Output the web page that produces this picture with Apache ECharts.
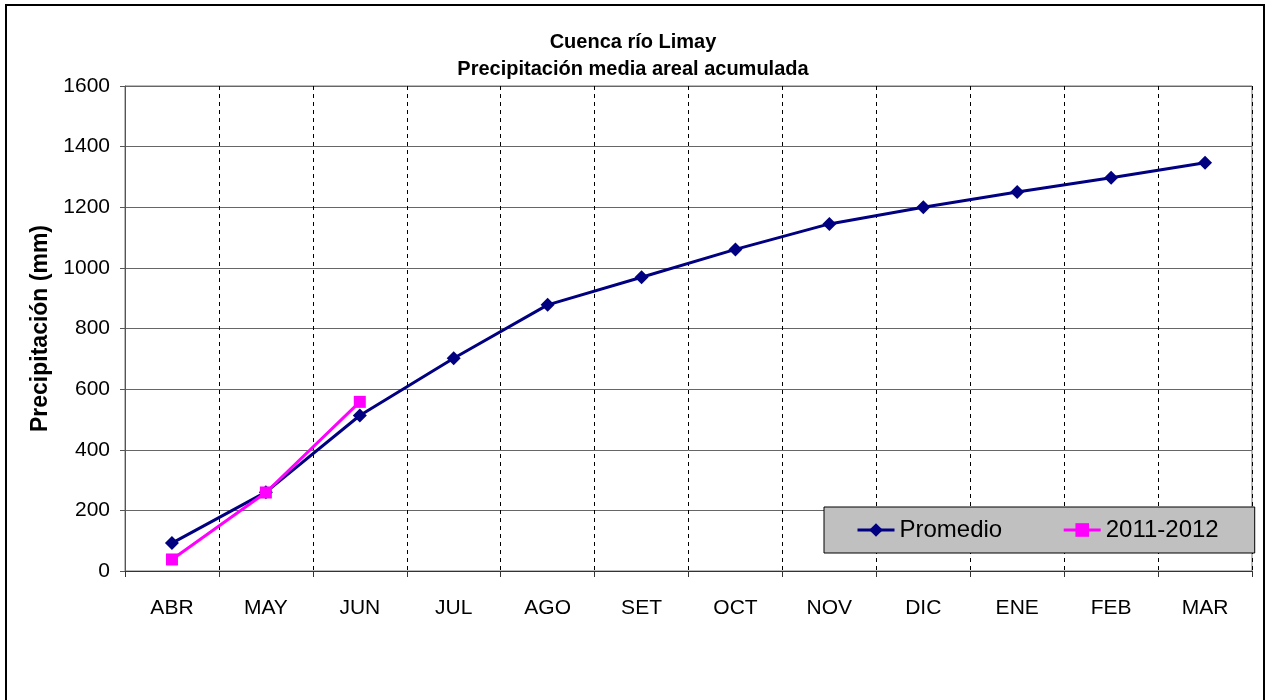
<!DOCTYPE html>
<html>
<head>
<meta charset="utf-8">
<script src="https://cdn.jsdelivr.net/npm/echarts@6/dist/echarts.min.js"></script>
<style>
  html, body { margin: 0; padding: 0; background: #fff; }
  #chart { width: 1266px; height: 700px; }
</style>
</head>
<body>
<div id="chart"></div>
<script>
// Months of the hydrological year (April to March)
const months = ['ABR', 'MAY', 'JUN', 'JUL', 'AGO', 'SET', 'OCT', 'NOV', 'DIC', 'ENE', 'FEB', 'MAR'];
// Mean accumulated areal precipitation (mm)
const promedio = [92, 260, 513, 702, 878, 969, 1061, 1145, 1200, 1250, 1297, 1347];
// Accumulated precipitation for the 2011-2012 season (mm)
const temporada = [38, 259, 558];
const yTicks = { min: 0, max: 1600, interval: 200 };

const FONT = '"Liberation Sans", Arial, sans-serif';

const chart = echarts.init(document.getElementById('chart'), null, { renderer: 'canvas' });

chart.setOption({
  animation: false,
  backgroundColor: '#ffffff',
  textStyle: { fontFamily: FONT, color: '#000' },
  title: {
    text: 'Cuenca río Limay\nPrecipitación media areal acumulada',
    left: 'center',
    top: 24,
    padding: [5, 5, 5, 19],
    textStyle: { fontFamily: FONT, fontSize: 20, fontWeight: 'bold', color: '#000', lineHeight: 27 }
  },
  graphic: [{
    type: 'rect',
    shape: { x: 6, y: 5, width: 1258, height: 700 },
    style: { fill: 'none', stroke: '#000', lineWidth: 2 },
    silent: true,
    z: 100
  }],
  grid: {
    left: 125, right: 14, top: 86, bottom: 129,
    show: true, borderColor: '#777', borderWidth: 1, backgroundColor: 'transparent'
  },
  legend: {
    left: 824, top: 507,
    orient: 'horizontal',
    backgroundColor: '#c0c0c0',
    borderColor: '#000', borderWidth: 1, borderRadius: 0,
    padding: [11, 36, 11, 32],
    itemWidth: 37, itemHeight: 17, itemGap: 60,
    lineStyle: { width: 3 },
    textStyle: { fontFamily: FONT, fontSize: 24, color: '#000' },
    data: ['Promedio', '2011-2012']
  },
  xAxis: {
    type: 'category',
    data: months,
    boundaryGap: true,
    axisLine: { show: true, lineStyle: { color: '#333', width: 1 } },
    axisTick: { show: true, inside: false, length: 6, lineStyle: { color: '#333' } },
    axisLabel: { fontFamily: FONT, fontSize: 21, color: '#000', margin: 27 },
    splitLine: { show: true, lineStyle: { color: '#000', type: [4, 4], width: 1 } }
  },
  yAxis: {
    type: 'value',
    min: yTicks.min, max: yTicks.max, interval: yTicks.interval,
    name: 'Precipitación (mm)',
    nameLocation: 'middle',
    nameGap: 70,
    nameTextStyle: { fontFamily: FONT, fontSize: 23, fontWeight: 'bold', color: '#000' },
    axisLine: { show: true, lineStyle: { color: '#555', width: 1 } },
    axisTick: { show: true, inside: false, length: 5, lineStyle: { color: '#555' } },
    axisLabel: {
      fontFamily: FONT, fontSize: 21, color: '#000', margin: 15,
      formatter: function (v) { return String(v); }
    },
    splitLine: { show: true, lineStyle: { color: '#666', width: 1 } }
  },
  series: [
    {
      name: 'Promedio',
      type: 'line',
      data: promedio,
      symbol: 'diamond',
      symbolSize: 14,
      itemStyle: { color: '#000080' },
      lineStyle: { color: '#000080', width: 3 },
      z: 3
    },
    {
      name: '2011-2012',
      type: 'line',
      data: temporada,
      symbol: 'rect',
      symbolSize: 12,
      itemStyle: { color: '#ff00ff' },
      lineStyle: { color: '#ff00ff', width: 3 },
      z: 4
    }
  ]
});
</script>
</body>
</html>
